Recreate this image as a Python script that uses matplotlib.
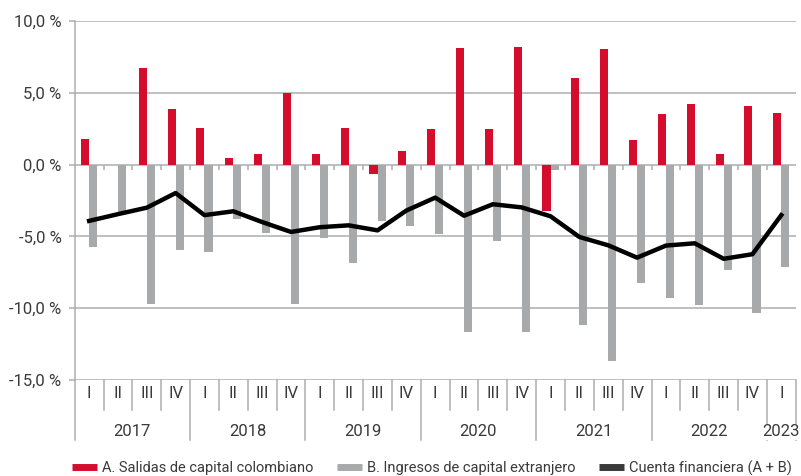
import matplotlib
matplotlib.use("Agg")
import matplotlib.pyplot as plt
import matplotlib.transforms as mtransforms
from matplotlib.lines import Line2D
import numpy as np

plt.rcParams['font.family'] = ['Roboto', 'DejaVu Sans']

years = ["2017", "2018", "2019", "2020", "2021", "2022", "2023"]
quarters = ["I", "II", "III", "IV"] * 6 + ["I"]

salidas = [1.81, -0.05, 6.71, 3.90, 2.58, 0.49, 0.72, 4.99, 0.72, 2.58, -0.65, 0.97,
           2.51, 8.15, 2.51, 8.22, -3.23, 6.03, 8.05, 1.69, 3.55, 4.22, 0.74, 4.08, 3.62]
ingresos = [-5.74, -3.41, -9.73, -5.92, -6.08, -3.76, -4.76, -9.68, -5.11, -6.83, -3.93, -4.30,
            -4.85, -11.68, -5.32, -11.68, -0.40, -11.14, -13.68, -8.22, -9.26, -9.75, -7.31, -10.36, -7.13]
cuenta = [-3.92, -3.45, -3.00, -1.98, -3.52, -3.25, -4.00, -4.69, -4.36, -4.23, -4.58, -3.20,
          -2.30, -3.56, -2.76, -2.98, -3.60, -5.04, -5.62, -6.48, -5.64, -5.48, -6.56, -6.24, -3.52]

legend_labels = ["A. Salidas de capital colombiano", "B. Ingresos de capital extranjero",
                 "Cuenta financiera (A + B)"]

RED = "#D50D2D"
GRAY = "#A7A9AA"
GRID = "#ADADAD"
TXT = "#3A3A3A"
AX_FS = 12

fig = plt.figure(figsize=(8.01, 4.76), dpi=100)
ax = fig.add_axes([74.7 / 801, 1 - 380 / 476, (795.7 - 74.7) / 801, (380 - 21) / 476])

n = len(salidas)
x = np.arange(n)
w = 0.28
ax.bar(x - w / 2, salidas, width=w, color=RED, zorder=3)
ax.bar(x + w / 2, ingresos, width=w, color=GRAY, zorder=3)
ax.plot(x, cuenta, color="black", lw=3.2, zorder=4, solid_joinstyle="round")

ax.set_xlim(-0.5, n - 0.5)
ax.set_ylim(-15, 10)
yt = [10, 5, 0, -5, -10, -15]
ax.set_yticks(yt)
ax.set_yticklabels([("%.1f" % v).replace(".", ",") + " %" for v in yt], color=TXT, fontsize=AX_FS)
ax.tick_params(axis="y", length=4.5, width=1.1, color=GRID, pad=5)
ax.set_xticks([])
for v in yt:
    ax.axhline(v, color=GRID, lw=1.1, zorder=1)
for s in ["top", "right", "bottom"]:
    ax.spines[s].set_visible(False)
ax.spines["left"].set_color(GRID)
ax.spines["left"].set_linewidth(1.1)

# small ticks on zero line between categories
ax.vlines(np.arange(n - 1) + 0.5, -0.35, 0, color=GRID, lw=1.1, zorder=2)

# category axis
trans = mtransforms.blended_transform_factory(ax.transData, ax.transAxes)
px = 1.0 / 359.0  # one pixel in axes fraction
ax.plot([-0.5, -0.5], [0, -60 * px], color=GRID, lw=1.1, transform=trans, clip_on=False)
for i, q in enumerate(quarters):
    ax.text(i, -13 * px, q, transform=trans, ha="center", va="center", color=TXT, fontsize=AX_FS)
    b = i + 0.5
    is_year = (i + 1) % 4 == 0 or i == n - 1
    ax.plot([b, b], [0, -(60 if is_year else 30) * px], color=GRID, lw=1.1,
            transform=trans, clip_on=False)
for k, yname in enumerate(years):
    start = 4 * k
    end = min(4 * k + 3, n - 1)
    ax.text((start + end) / 2, -51.7 * px, yname, transform=trans, ha="center", va="center",
            color=TXT, fontsize=AX_FS,
            bbox=dict(facecolor="white", edgecolor="none", pad=0.5) if yname == "2023" else None)

handles = [Line2D([], [], color=RED, lw=5, solid_capstyle="butt"),
           Line2D([], [], color=GRAY, lw=5, solid_capstyle="butt"),
           Line2D([], [], color="#3A3A3A", lw=5, solid_capstyle="butt")]
fig.legend(handles, legend_labels, loc="center", bbox_to_anchor=(432 / 801, 1 - 468 / 476),
           ncol=3, frameon=False, fontsize=10.5, handlelength=1.7, handletextpad=0.34,
           columnspacing=1.65, labelcolor=TXT)

fig.savefig("out.png", dpi=100, facecolor="white")
